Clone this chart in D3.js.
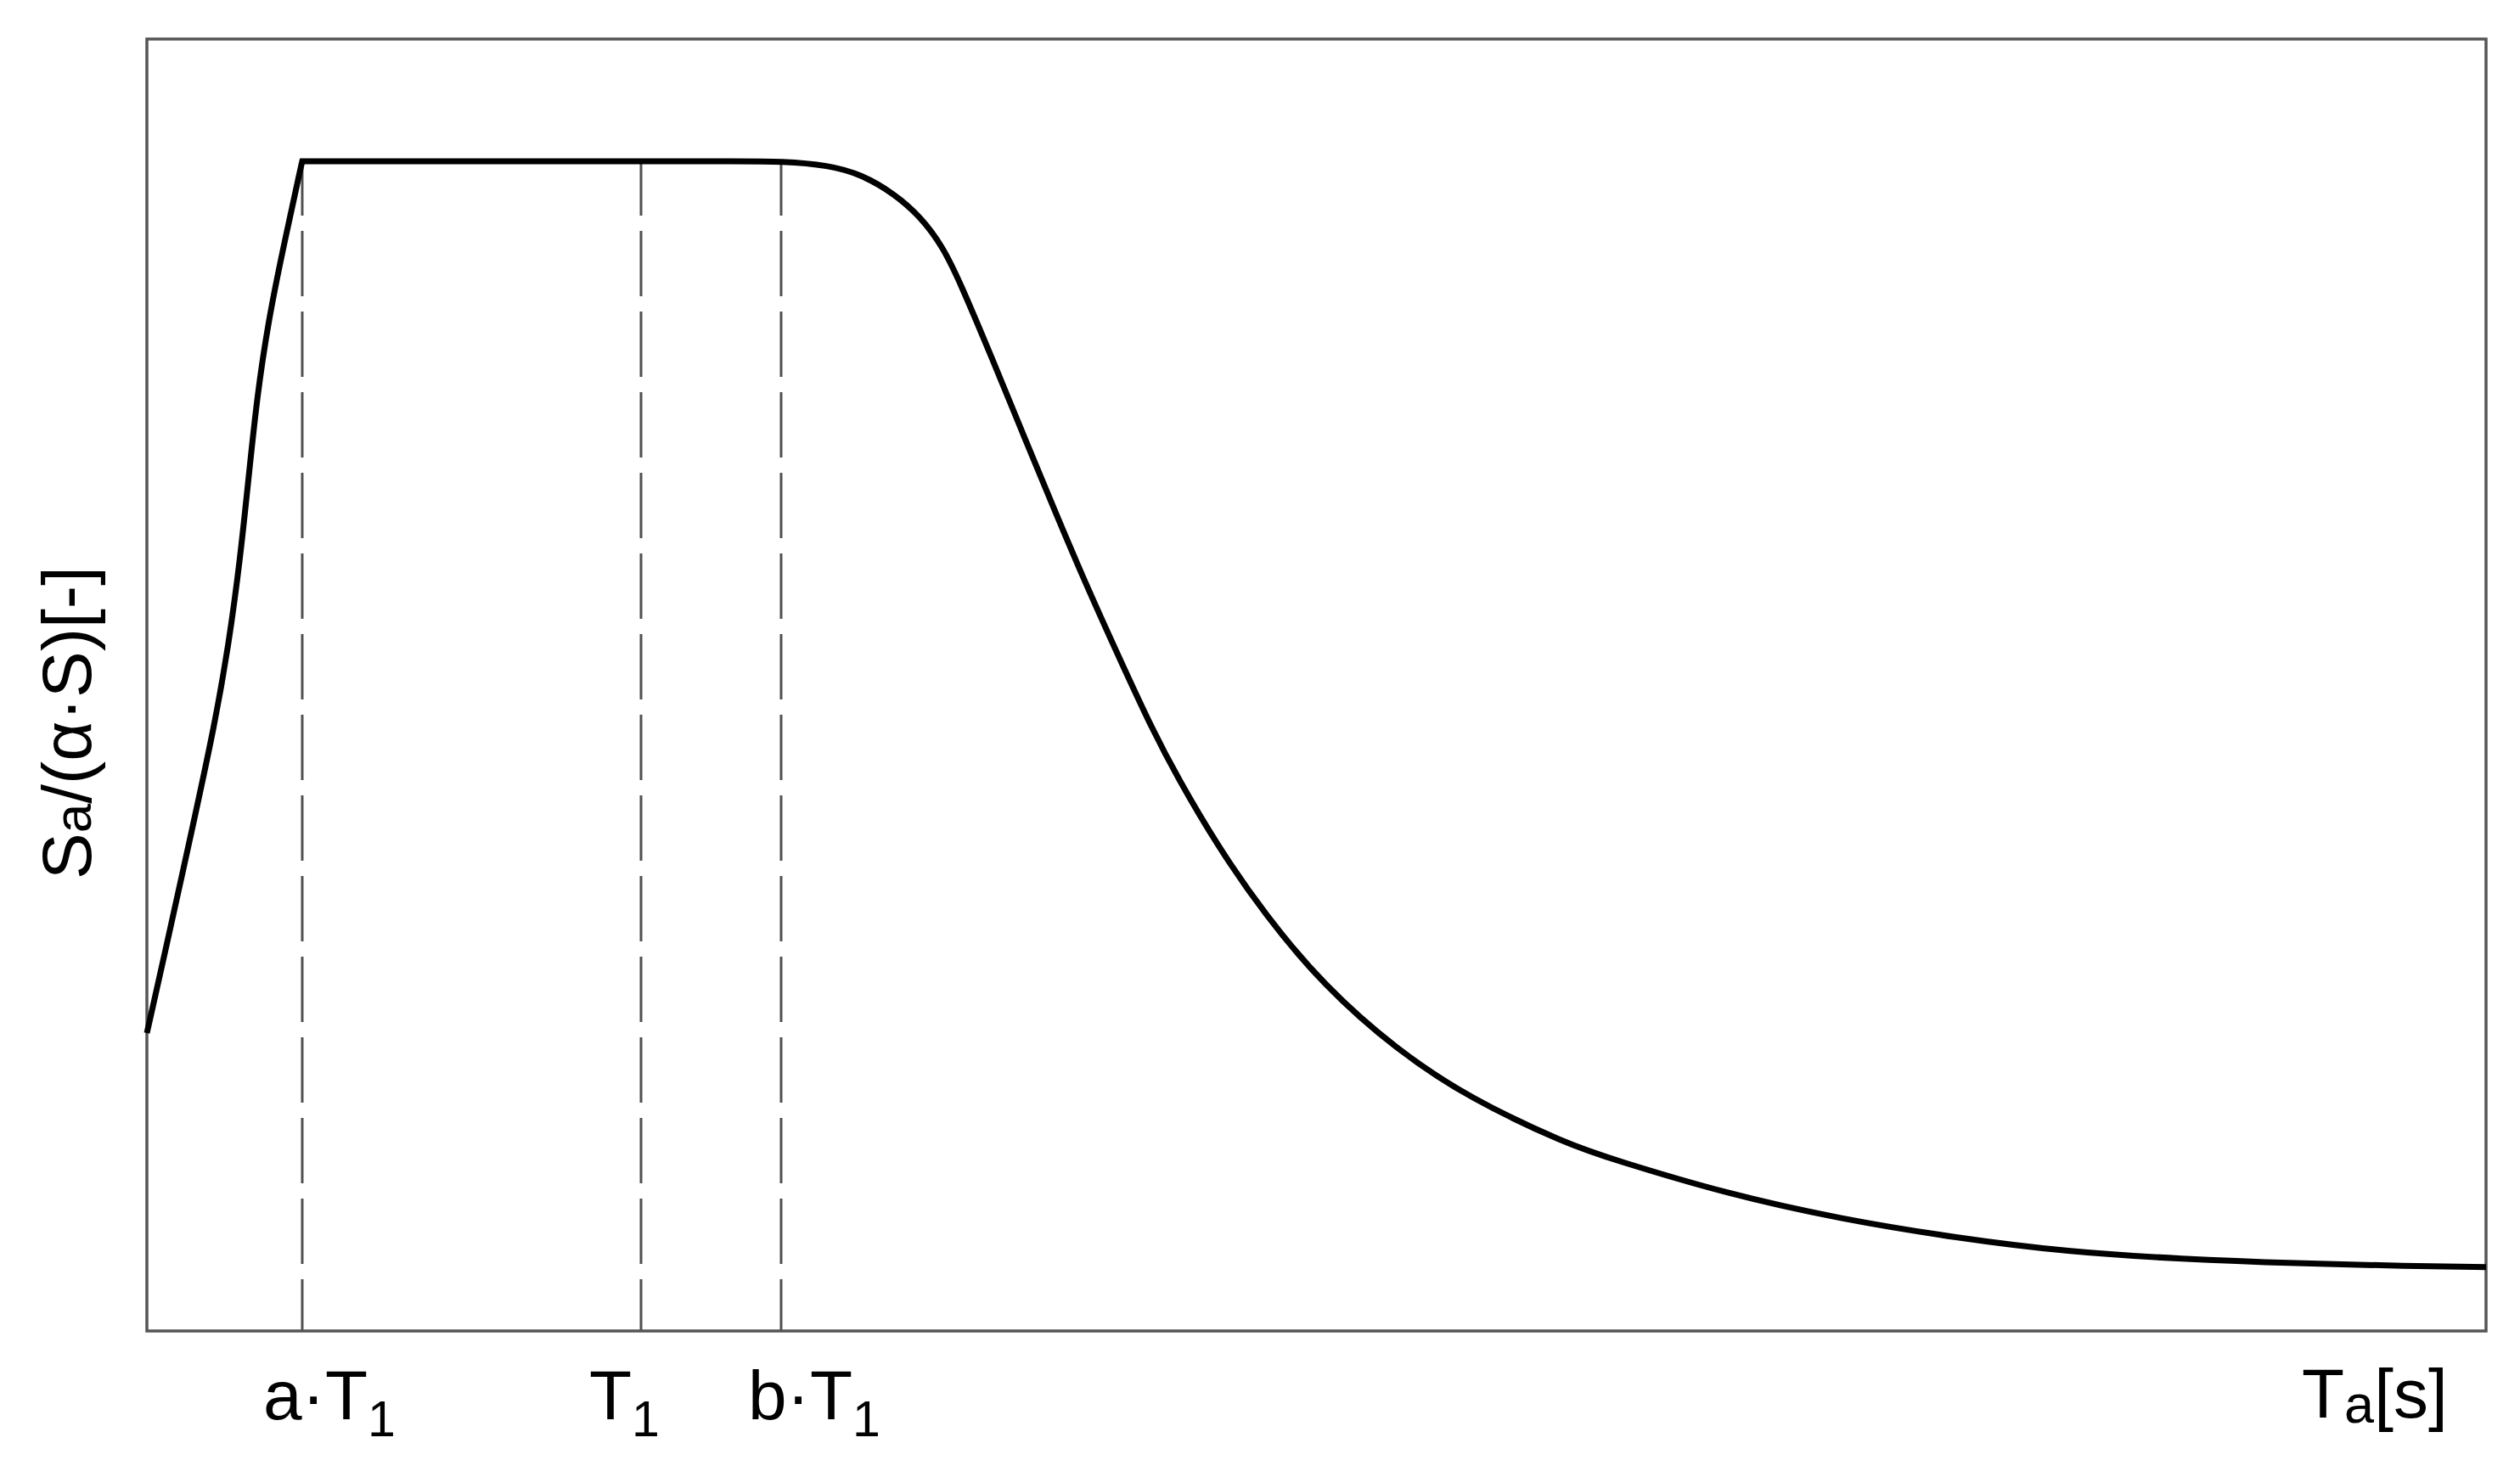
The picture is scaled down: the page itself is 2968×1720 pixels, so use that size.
<!DOCTYPE html>
<html><head><meta charset="utf-8">
<script src="https://cdn.jsdelivr.net/npm/d3@7"></script>
<style>
body{margin:0;background:#fff}
svg text{font-family:"Liberation Sans",Arial,Helvetica,sans-serif;fill:#000}
</style>
</head><body>
<svg id="chart" width="2968" height="1720"></svg>
<script>
// ---- data (x in units of T1, y normalised to the plateau) ----
const riseT  = [0, 0.0344, 0.0914, 0.1371, 0.1658, 0.1887, 0.2058, 0.2230, 0.2459, 0.2744, 0.3115, 0.3144];
const riseSa = [0.2547, 0.3193, 0.4286, 0.5180, 0.5876, 0.6599, 0.7294, 0.7990, 0.8636, 0.9231, 0.9950, 1.0];
const plateauT  = [0.3144, 0.4, 1.0, 1.2, 1.2835];
const plateauSa = [1, 1, 1, 1, 1];
const decayT  = [1.2835, 1.3797, 1.4467, 1.5120, 1.5653, 1.6100, 1.6443, 1.7096, 1.7749, 1.8402, 1.9072, 1.9725, 2.0361, 2.0859, 2.1649, 2.2629, 2.3814, 2.5292, 2.6770, 2.8746, 2.9674, 3.1976, 3.4278, 3.6581, 3.8883, 4.1186, 4.3488, 4.5790, 4.7337];
const decaySa = [1, 0.9967, 0.9886, 0.9724, 0.9528, 0.9274, 0.8979, 0.8324, 0.7649, 0.6981, 0.6317, 0.5711, 0.5131, 0.4731, 0.4158, 0.3556, 0.2954, 0.2402, 0.1988, 0.1597, 0.1466, 0.1172, 0.0957, 0.0798, 0.0675, 0.0615, 0.0578, 0.0554, 0.0546];
const markT      = [0.3144, 1, 1.2835];
const markPrefix = ["a·T", "T", "b·T"];
const markSub    = ["1", "1", "1"];
const xLabelMain = "T", xLabelSub = "a", xLabelUnit = "[s]";
const yLabelMain = "S", yLabelSub = "a", yLabelRest = "/(α·S)[-]";
const xDomain = [0, 4.7337], yDomain = [0, 1.1045];

// ---- layout ----
const L = 173, R = 2928, T = 46, B = 1568;
const labelDx = [-46, -61, -39];
const svg = d3.select("#chart");
const x = d3.scaleLinear().domain(xDomain).range([L, R]);
const y = d3.scaleLinear().domain(yDomain).range([B, T]);

// dashed marker lines
svg.append("g").selectAll("line").data(markT).join("line")
  .attr("x1", d => x(d)).attr("x2", d => x(d))
  .attr("y1", y(1)).attr("y2", B)
  .attr("stroke", "#505050").attr("stroke-width", 3)
  .attr("stroke-dasharray", "77 18").attr("stroke-dashoffset", 13);

// frame
svg.append("rect").attr("x", L).attr("y", T).attr("width", R - L).attr("height", B - T)
  .attr("fill", "none").attr("stroke", "#555").attr("stroke-width", 3.5);

// curve: rise, then plateau + smooth decay
const line = d3.line().x(d => x(d[0])).y(d => y(d[1])).curve(d3.curveBasis);
const rise = riseT.map((t, i) => [t, riseSa[i]]);
const rest = plateauT.map((t, i) => [t, plateauSa[i]])
  .concat(decayT.slice(1).map((t, i) => [t, decaySa[i + 1]]));
const p1 = line(rise);
const p2 = line(rest).replace(/^M[^A-Za-z]*/, "");
svg.append("path").attr("d", p1 + p2)
  .attr("fill", "none").attr("stroke", "#000").attr("stroke-width", 7)
  .attr("stroke-linejoin", "miter").attr("stroke-linecap", "butt");

// marker labels
const lab = svg.append("g").selectAll("text").data(markT).join("text")
  .attr("x", (d, i) => x(d) + labelDx[i]).attr("y", 1672)
  .attr("font-size", 82);
lab.append("tspan").text((d, i) => markPrefix[i]);
lab.append("tspan").attr("font-size", 59).attr("dy", 20).text((d, i) => markSub[i]);

// x axis label
const xl = svg.append("text").attr("x", 2711).attr("y", 1670).attr("font-size", 82);
xl.append("tspan").text(xLabelMain);
xl.append("tspan").attr("font-size", 63).attr("dy", 6).text(xLabelSub);
xl.append("tspan").attr("dy", -6).text(xLabelUnit);

// y axis label
const yl = svg.append("text").attr("transform", "translate(107,1036) rotate(-90)").attr("font-size", 82);
yl.append("tspan").text(yLabelMain);
yl.append("tspan").attr("font-size", 62).text(yLabelSub);
yl.append("tspan").text(yLabelRest);
</script>
</body></html>
